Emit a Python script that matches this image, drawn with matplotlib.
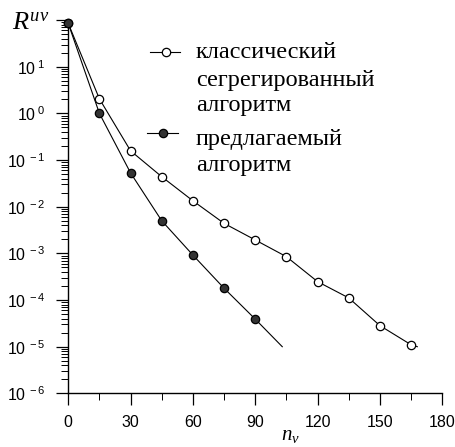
import numpy as np
import matplotlib
matplotlib.use("Agg")
import matplotlib.pyplot as plt
from matplotlib.ticker import LogLocator, FixedLocator, FuncFormatter, NullFormatter
from matplotlib.lines import Line2D

plt.rcParams['font.family'] = ['Liberation Sans', 'DejaVu Sans']
plt.rcParams['mathtext.fontset'] = 'custom'
plt.rcParams['mathtext.rm'] = 'Liberation Sans'
plt.rcParams['mathtext.it'] = 'Liberation Serif:italic'

# classic segregated algorithm
n_classic = [0, 15, 30, 45, 60, 75, 90, 105, 120, 135, 150, 165]
r_classic = [85, 2.05, 0.158, 0.044, 0.0134, 0.0044, 0.00194, 0.00085,
             0.000248, 0.000111, 2.83e-5, 1.1e-5]
n_classic_end = 168
r_classic_end = 1.0e-5

# proposed algorithm
n_new = [0, 15, 30, 45, 60, 75, 90]
r_new = [85, 1.0, 0.053, 0.0050, 0.00092, 0.000179, 3.9e-5]
n_new_end = 103
r_new_end = 1.0e-5

y_decades = [1e-6, 1e-5, 1e-4, 1e-3, 1e-2, 1e-1, 1e0, 1e1, 1e2]

label_classic = ["классический", "сегрегированный", "алгоритм"]
label_new = ["предлагаемый", "алгоритм"]

fig = plt.figure(figsize=(4.55, 4.47), dpi=100)
ax = fig.add_axes([0.150, 0.120, 0.822, 0.835])

lw = 0.8
ax.plot(n_classic + [n_classic_end], r_classic + [r_classic_end], color='black', lw=lw)
ax.plot(n_new + [n_new_end], r_new + [r_new_end], color='black', lw=lw)
ax.plot(n_classic, r_classic, ls='none', marker='o', ms=6, mfc='white', mec='black',
        mew=0.9, clip_on=False, zorder=3)
ax.plot(n_new, r_new, ls='none', marker='o', ms=6, mfc='#333333', mec='black',
        mew=0.9, clip_on=False, zorder=4)

ax.set_yscale('log')
ax.set_ylim(1e-6, 1e2)
ax.set_xlim(0, 180)

ax.spines['top'].set_visible(False)
ax.spines['right'].set_visible(False)
ax.spines['left'].set_linewidth(1.0)
ax.spines['bottom'].set_linewidth(1.0)

ax.xaxis.set_major_locator(FixedLocator([0, 30, 60, 90, 120, 150, 180]))
ax.xaxis.set_minor_locator(FixedLocator([15, 45, 75, 105, 135, 165]))
ax.yaxis.set_major_locator(FixedLocator(y_decades))
ax.yaxis.set_minor_locator(LogLocator(base=10, subs=np.arange(2, 10), numticks=20))
ax.yaxis.set_minor_formatter(NullFormatter())


def yfmt(v, pos):
    e = int(round(np.log10(v)))
    if e >= 2:
        return ''
    return r'$\mathregular{10^{\ %d}}$' % e


ax.yaxis.set_major_formatter(FuncFormatter(yfmt))
ax.tick_params(axis='both', which='major', direction='out', length=8.5, width=0.9,
               labelsize=11.5, colors='black')
ax.tick_params(axis='both', which='minor', direction='out', length=5, width=0.7)
ax.tick_params(axis='x', which='major', pad=7)
ax.tick_params(axis='y', which='major', pad=8)

fig.text(12 / 455, 1 - 30 / 447, r'$R^{uv}$', fontsize=19, va='baseline', ha='left')
fig.text(290 / 455, 1 - 440 / 447, r'$n_v$', fontsize=15, ha='center', va='baseline')

# legend drawn by hand so the marker sits at the first text line
H = 447.0
W = 455.0
legend_rows = [(51.7, 150, 180, 165.5, 'white', label_classic, [58.3, 86, 111.5]),
               (133.0, 147, 178, 163, '#333333', label_new, [145, 171.5])]
for (y, x0, x1, xm, fc, lines, bases) in legend_rows:
    fig.add_artist(Line2D([x0 / W, x1 / W], [1 - y / H, 1 - y / H], color='black', lw=lw))
    fig.add_artist(Line2D([xm / W], [1 - y / H], marker='o', ms=6, mfc=fc, mec='black', mew=0.9))
    for txt, yb in zip(lines, bases):
        fig.text(196 / W, 1 - yb / H, txt, family='Liberation Serif', fontsize=17.5,
                 va='baseline', ha='left')

fig.savefig('out.png', dpi=100)
